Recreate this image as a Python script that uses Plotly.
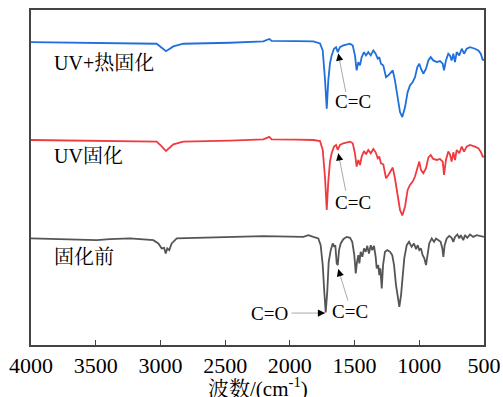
import plotly.graph_objects as go

# ---------------- data ----------------
wn_top = [4000, 3621, 3235, 3029, 2990, 2957, 2900, 2823, 2462, 2205, 2159, 2140, 1947, 1819,
          1767, 1746, 1728, 1715, 1703, 1690, 1677, 1659, 1643, 1630, 1613, 1587, 1535, 1514,
          1497, 1484, 1471, 1458, 1445, 1427, 1412, 1394, 1375, 1355, 1337, 1321, 1309, 1296,
          1278, 1257, 1239, 1221, 1205, 1188, 1170, 1149, 1131, 1110, 1090, 1072, 1051, 1033,
          1015, 1000, 987, 969, 948, 930, 912, 892, 865, 840, 819, 809, 794, 776, 763, 750,
          737, 724, 711, 691, 672, 654, 634, 608, 570, 544, 525, 510, 500]

uv_heat = [303.3, 302.7, 301.7, 301.7, 297.7, 294.3, 299, 301.7, 302.7, 304, 306.5, 304.5, 304.3, 304,
           302, 295, 265, 236.7, 265, 282, 290, 296.7, 298.3, 293.3, 298.3, 300, 301.7, 300,
           290, 275, 283.3, 280, 288.3, 293.3, 290, 293.3, 290, 295, 291.7, 286.7, 288.3, 281.7,
           280, 268.3, 270, 273.3, 275, 265, 248.3, 233.3, 228.3, 238.3, 253.3, 260, 263.3, 268.3,
           278.3, 281.7, 276.7, 271.7, 276.7, 285, 288.3, 285, 283.3, 284.3, 281.7, 275, 285, 291.7, 290, 285,
           291.7, 283.3, 293.3, 290, 296.7, 291.7, 296.7, 298.3, 296.7, 295, 291.7, 285.7, 285.7]

uv_only = [205.3, 204.7, 203.7, 203.7, 199, 194.3, 201, 203.7, 204.7, 206, 208.5, 206, 205.7, 205.3,
           204.3, 195.3, 167, 135.3, 163.7, 183.7, 192, 198.7, 200.3, 195.3, 200.3, 202, 203.7, 202,
           192, 178.7, 185.3, 180.3, 188.7, 194.3, 191, 195.3, 192, 196.3, 193, 187, 188.7, 182,
           181, 167, 170.3, 173.7, 177.7, 167, 150.3, 135.3, 129.7, 138.7, 155.3, 160.3, 163.7, 168.7,
           177, 183.7, 175.3, 172, 177, 187.7, 190.3, 186.3, 185.3, 186.3, 183.7, 170.3, 185.3, 193.7, 191, 183.7,
           193, 185.3, 195.3, 192, 198.7, 193.7, 198.7, 200.3, 198.7, 197, 193.7, 188.7, 188.7]

wn_raw = [4000, 3750, 3492, 3390, 3235, 3055, 3016, 2990, 2972, 2959, 2947, 2932, 2913, 2874, 2720,
          2462, 2205, 1896, 1857, 1819, 1780, 1762, 1746, 1734, 1723, 1711, 1700, 1684, 1669, 1657,
          1649, 1638, 1630, 1620, 1607, 1587, 1561, 1535, 1518, 1502, 1491, 1481, 1471, 1463, 1453,
          1440, 1427, 1414, 1402, 1389, 1375, 1363, 1350, 1337, 1329, 1317, 1309, 1301, 1290, 1280,
          1265, 1247, 1226, 1209, 1195, 1180, 1167, 1154, 1141, 1128, 1116, 1097, 1079, 1059, 1041,
          1025, 1012, 1000, 987, 974, 961, 948, 935, 923, 904, 886, 871, 853, 835, 822, 814, 804,
          788, 768, 750, 737, 724, 706, 691, 680, 660, 647, 629, 608, 583, 556, 531, 500]

uncured = [106.7, 106, 105, 106, 106.7, 105, 101.7, 96.7, 97.3, 91.7, 96.7, 95, 101.7, 106.7, 107.3,
           108.3, 109, 108.3, 110, 108.3, 106.7, 100, 80, 53.3, 32.7, 53.3, 83.3, 95, 101.7, 98.3,
           100, 81.7, 80, 95, 101.7, 106, 108.3, 107.3, 103.3, 90, 71.7, 83.3, 90, 81.7, 93.3,
           88.3, 96.7, 93.3, 99.3, 91.7, 100, 95, 99.3, 88.3, 76.7, 80, 70, 76.7, 56.7, 80,
           93.3, 95, 93.3, 90, 80, 60, 46.7, 38.3, 50, 70, 86.7, 100, 103.3, 98.3, 101.7,
           96, 100, 95, 96.7, 90, 86.7, 80, 93.3, 101.7, 106.7, 103.3, 106.7, 105, 103.3, 96.7, 88.3, 100,
           106.7, 109.3, 107.3, 103.3, 108.3, 110.7, 106.7, 110, 105, 110, 107.3, 110.7, 108.3, 110, 109.3, 108.3]

series_names = ["UV+热固化", "UV固化", "固化前"]
series_colors = ["#1f6fdc", "#f03a3f", "#555555"]
tick_vals = [4000, 3500, 3000, 2500, 2000, 1500, 1000, 500]
x_title = "波数/(cm<sup>-1</sup>)"

# label positions (wavenumber, value)
label_pos = [(3838, 282.5), (3838, 189.5), (3838, 88.5)]
# arrow annotations: text, text position, tail, tip
arrows = [
    ("C=C", (1512, 244), (1566, 252), (1626, 292)),
    ("C=C", (1512, 143), (1566, 153), (1626, 192)),
    ("C=C", (1535, 34), (1548, 43), (1626, 76)),
]
co_label = ("C=O", (2161, 32), (1999, 32), (1728, 32))

FONT = "Liberation Serif, Noto Serif CJK SC, Noto Sans CJK SC, serif"

fig = go.Figure()
for xs, ys, c in [(wn_top, uv_heat, series_colors[0]),
                  (wn_top, uv_only, series_colors[1]),
                  (wn_raw, uncured, series_colors[2])]:
    fig.add_trace(go.Scatter(x=xs, y=ys, mode="lines",
                             line=dict(color=c, width=1.8),
                             showlegend=False, hoverinfo="skip"))

for name, (lx, ly) in zip(series_names, label_pos):
    fig.add_annotation(x=lx, y=ly, text=name, showarrow=False, xanchor="left", yanchor="middle",
                       font=dict(family=FONT, size=20, color="black"))

def add_arrow(text, tpos, tail, tip):
    fig.add_annotation(x=tpos[0], y=tpos[1], text=text, showarrow=False,
                       font=dict(family=FONT, size=19, color="black"))
    fig.add_annotation(x=tip[0], y=tip[1], ax=tail[0], ay=tail[1], axref="x", ayref="y",
                       text="", showarrow=True, arrowhead=0, arrowwidth=1, arrowcolor="#aaaaaa")
    fx = tip[0] + (tail[0] - tip[0]) * 0.12
    fy = tip[1] + (tail[1] - tip[1]) * 0.12
    fig.add_annotation(x=tip[0], y=tip[1], ax=fx, ay=fy, axref="x", ayref="y",
                       text="", showarrow=True, arrowhead=2, arrowsize=1.2, arrowwidth=1.2,
                       arrowcolor="black")

for a in arrows:
    add_arrow(*a)
add_arrow(*co_label)

# x-axis title placed as a paper-referenced annotation
fig.add_annotation(x=0.5, y=-0.128, xref="paper", yref="paper", text=x_title, showarrow=False,
                   xanchor="center", yanchor="middle", font=dict(family=FONT, size=21, color="black"))

fig.update_layout(
    width=503, height=397,
    margin=dict(l=31, r=19, t=10, b=52, autoexpand=False),
    plot_bgcolor="white", paper_bgcolor="white",
    font=dict(family=FONT, size=21, color="black"),
)
fig.update_xaxes(range=[4000, 500], tickvals=tick_vals, ticks="inside", ticklen=5,
                 tickcolor="#444", showline=True, linecolor="#444", linewidth=1.5, mirror=True,
                 showgrid=False, zeroline=False, automargin=False,
                 tickfont=dict(family=FONT, size=22, color="black"))
fig.update_yaxes(range=[0, 335.5], showticklabels=False, ticks="", showline=True, automargin=False,
                 linecolor="#444", linewidth=1.5, mirror=True, showgrid=False, zeroline=False)

fig.write_html("out.html", config={"displayModeBar": False},
               post_script="document.body.style.margin='0';document.body.style.overflow='hidden';")
